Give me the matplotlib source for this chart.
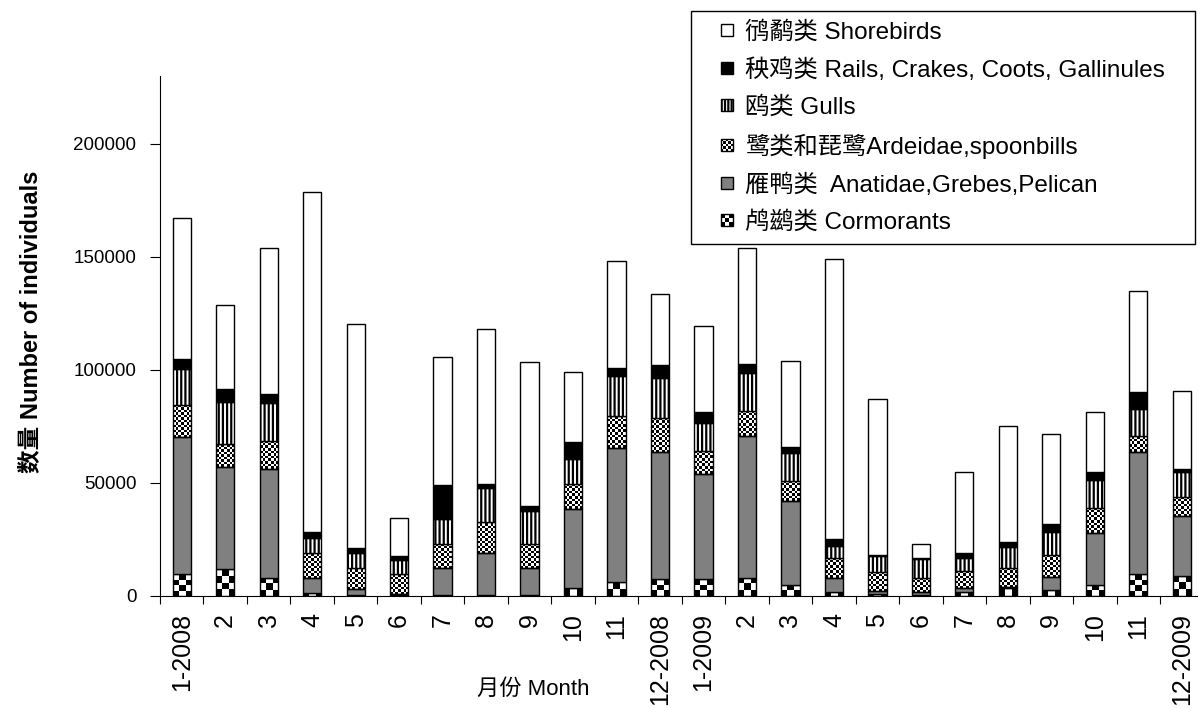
import numpy as np
import matplotlib
matplotlib.use("Agg")
import matplotlib.pyplot as plt
from matplotlib.patches import Rectangle, Patch
from matplotlib.legend_handler import HandlerBase

plt.rcParams['font.family'] = ['Liberation Sans', 'Noto Sans CJK SC']
plt.rcParams['hatch.linewidth'] = 1.6

months = ['1-2008', '2', '3', '4', '5', '6', '7', '8', '9', '10', '11', '12-2008',
          '1-2009', '2', '3', '4', '5', '6', '7', '8', '9', '10', '11', '12-2009']

# monthly counts per group (stack order bottom -> top)
cormorants = [9600, 11800, 8100, 1300, 500, 300, 300, 300, 300, 3400, 6000, 7500,
              7500, 8100, 4900, 1900, 1000, 300, 1900, 3400, 2700, 4900, 9700, 9000]
anatidae = [60900, 45400, 47900, 6800, 2600, 700, 11900, 18600, 11900, 35100, 59600, 56100,
            46300, 62700, 37100, 5900, 1000, 1300, 1800, 700, 5700, 23100, 54200, 26500]
ardeidae = [14000, 10100, 12600, 10800, 9400, 8600, 10700, 14000, 10700, 11100, 13800, 15000,
            10500, 11100, 9000, 8900, 8500, 6200, 7400, 8400, 9700, 11100, 7000, 8500]
gulls = [15800, 18700, 16800, 6600, 6400, 6300, 11200, 14700, 14700, 11000, 18000, 18000,
         12000, 16900, 12100, 5600, 7300, 8400, 5600, 9000, 10400, 12200, 11800, 10700]
rails = [4600, 5500, 4000, 2700, 2200, 1900, 15000, 1800, 2400, 7700, 3300, 5500,
         5300, 3900, 3000, 2900, 200, 500, 2500, 2500, 3200, 3700, 7400, 1500]
shorebirds = [62500, 37300, 64700, 150400, 99100, 16600, 56400, 68700, 63300, 30700, 47500, 31500,
              37700, 51100, 37900, 123900, 69200, 6500, 35800, 51400, 40100, 26600, 44900, 34500]

labels = ['鸻鹬类 Shorebirds',
          '秧鸡类 Rails, Crakes, Coots, Gallinules',
          '鸥类 Gulls',
          '鹭类和琵鹭Ardeidae,spoonbills',
          '雁鸭类  Anatidae,Grebes,Pelican',
          '鸬鹚类 Cormorants']

W, H = 1198, 708
fig = plt.figure(figsize=(W / 100, H / 100), dpi=100)
ax_l, ax_b, ax_w, ax_h = 160 / W, (H - 596) / H, 1043.5 / W, 520 / H
ax = fig.add_axes([ax_l, ax_b, ax_w, ax_h])

YMAX = 230000
x = np.arange(len(months))
px_x = ax_w * W / len(months)
px_y = ax_h * H / YMAX
bw = 0.42


def fill_checker(bars, cell):
    # black/white checkerboard drawn under each (unfilled) bar
    for p in bars:
        x0, y0 = p.get_x(), p.get_y()
        w, h = p.get_width(), p.get_height()
        nx = max(1, int(round(w * px_x / cell)))
        ny = max(1, int(round(h * px_y / cell)))
        grid = np.add.outer(np.arange(ny), np.arange(nx)) % 2
        ax.imshow(grid, cmap='gray', vmin=0, vmax=1, extent=(x0, x0 + w, y0, y0 + h),
                  origin='lower', interpolation='nearest', aspect='auto', zorder=1.5)


bottom = np.zeros(len(x))
kw = dict(width=bw, edgecolor='black', linewidth=1.0, zorder=2)

b = ax.bar(x, cormorants, bottom=bottom, facecolor='none', **kw)
fill_checker(b, 6)
bottom += cormorants
ax.bar(x, anatidae, bottom=bottom, facecolor='#808080', **kw)
bottom += anatidae
b = ax.bar(x, ardeidae, bottom=bottom, facecolor='none', **kw)
fill_checker(b, 2.5)
bottom += ardeidae
ax.bar(x, gulls, bottom=bottom, facecolor='white', hatch='||||', **kw)
bottom += gulls
ax.bar(x, rails, bottom=bottom, facecolor='black', **kw)
bottom += rails
ax.bar(x, shorebirds, bottom=bottom, facecolor='white', **kw)

ax.set_xlim(-0.5, len(x) - 0.5)
ax.set_ylim(0, YMAX)
ax.set_aspect('auto')

for s in ['top', 'right']:
    ax.spines[s].set_visible(False)
for s in ['left', 'bottom']:
    ax.spines[s].set_linewidth(0.8)

ax.set_xticks(x)
ax.set_xticklabels(months, rotation=90, fontsize=18)
ax.tick_params(axis='x', which='major', length=0, pad=12)
ax.set_xticks(np.arange(-0.5, len(x), 1), minor=True)
ax.tick_params(axis='x', which='minor', length=6, width=0.8, direction='out')

ax.set_yticks(np.arange(0, 200001, 50000))
ax.set_yticklabels([str(v) for v in range(0, 200001, 50000)])
ax.tick_params(axis='y', length=7, width=0.8, labelsize=13.5, pad=10)

ax.set_ylabel('数量 Number of individuals', fontsize=17, fontweight='bold')
ax.yaxis.set_label_coords(-0.112, 0.527)
ax.set_xlabel('月份 Month', fontsize=16,
              family=['Liberation Sans Narrow', 'Liberation Sans', 'Noto Sans CJK SC'])
ax.xaxis.set_label_coords(0.3575, -0.16)


class SquareHandler(HandlerBase):
    # small square marker at the right end of the handle box
    def __init__(self, checker=0):
        super().__init__()
        self.checker = checker

    def create_artists(self, legend, orig_handle, xdescent, ydescent, width, height, fontsize, trans):
        s = min(width, height)
        x0 = -xdescent + width - s
        y0 = -ydescent + (height - s) / 2
        if not self.checker:
            return [Rectangle((x0, y0), s, s, facecolor=orig_handle.get_facecolor(),
                              edgecolor='black', hatch=orig_handle.get_hatch(), lw=1,
                              transform=trans)]
        n = self.checker
        c = s / n
        arts = [Rectangle((x0, y0), s, s, facecolor='white', edgecolor='none', transform=trans)]
        for i in range(n):
            for j in range(n):
                if (i + j) % 2 == 0:
                    arts.append(Rectangle((x0 + i * c, y0 + j * c), c, c, facecolor='black',
                                          edgecolor='none', transform=trans))
        arts.append(Rectangle((x0, y0), s, s, facecolor='none', edgecolor='black', lw=1, transform=trans))
        return arts


h_shore = Patch(facecolor='white', edgecolor='black')
h_rails = Patch(facecolor='black', edgecolor='black')
h_gulls = Patch(facecolor='white', edgecolor='black', hatch='|||||')
h_ard = Patch(facecolor='white', edgecolor='black')
h_anat = Patch(facecolor='#808080', edgecolor='black')
h_corm = Patch(facecolor='white', edgecolor='black')
handles = [h_shore, h_rails, h_gulls, h_ard, h_anat, h_corm]

hmap = {h: SquareHandler() for h in handles}
hmap[h_corm] = SquareHandler(3)
hmap[h_ard] = SquareHandler(5)

leg = fig.legend(handles, labels,
                 loc='upper left', bbox_to_anchor=(691 / W, 1 - 11 / H, 504 / W, 0),
                 mode='expand', fontsize=17.5, frameon=True, fancybox=False, framealpha=1,
                 edgecolor='black', handlelength=1.32, handleheight=0.4, handletextpad=0.5,
                 labelspacing=0.6, borderpad=0.42, borderaxespad=0,
                 handler_map=hmap)
leg.get_frame().set_linewidth(1.0)

fig.savefig('out.png', dpi=100)
